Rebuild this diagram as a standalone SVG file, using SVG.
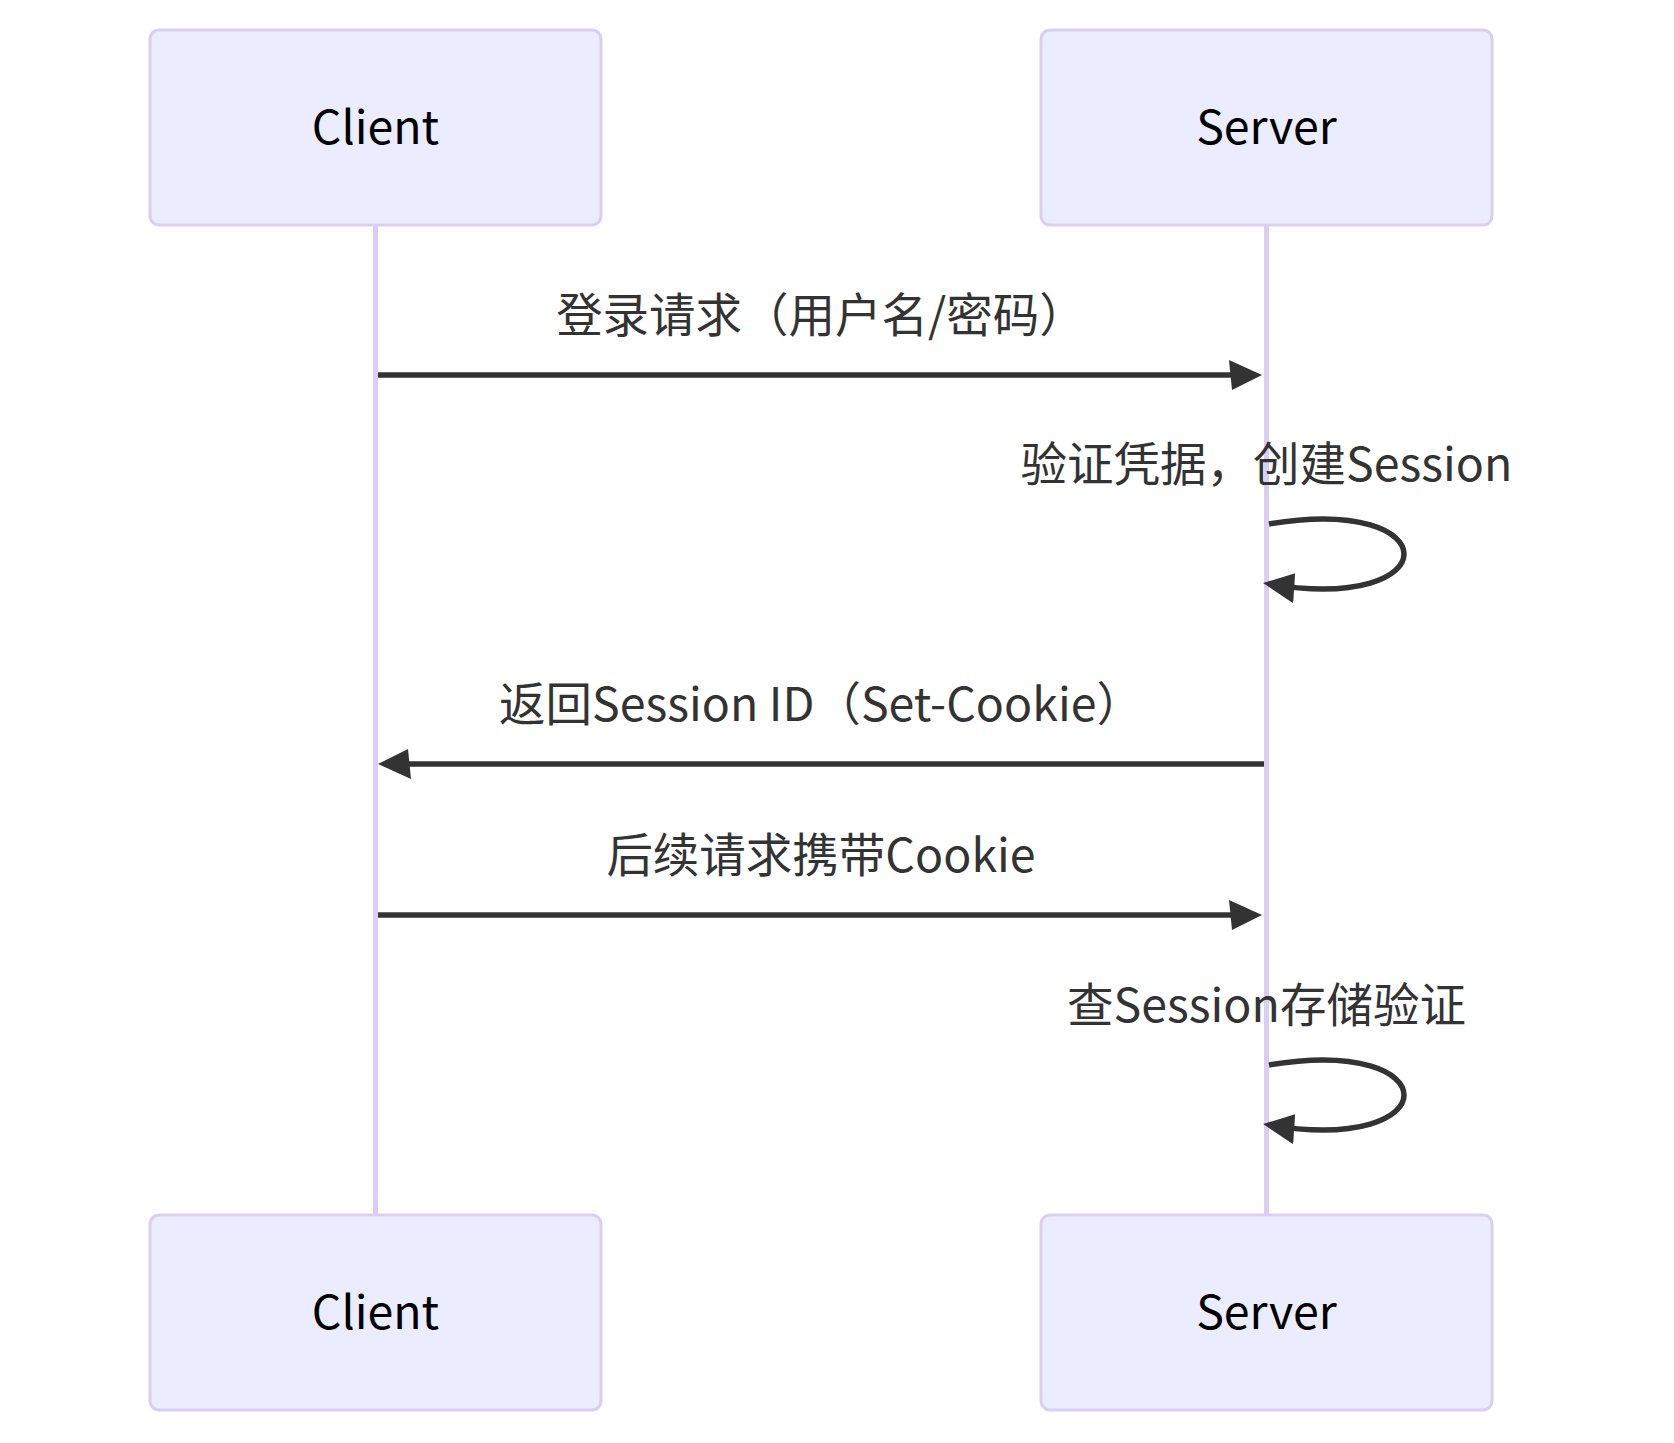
<svg xmlns="http://www.w3.org/2000/svg" width="1674" height="1443" viewBox="0 0 1674 1443">
<style>
.actor{fill:#ECECFF;stroke:#DACEF3;stroke-width:3}
.actor-text{font-family:"Noto Sans CJK SC","Liberation Sans",sans-serif;font-size:46.5px;fill:#000;text-anchor:middle}
.lifeline{stroke:#DACEF3;stroke-width:5;fill:none}
.msg{stroke:#333;stroke-width:5.5;fill:none}
.msg-text{font-family:"Noto Sans CJK SC","Liberation Sans",sans-serif;font-size:46.5px;fill:#333;text-anchor:middle}
</style>
<defs>
<marker id="arrowhead" markerUnits="userSpaceOnUse" viewBox="-3 0 33 30" markerWidth="33" markerHeight="30" refX="24" refY="15" orient="auto">
<path d="M -3 0 L 30 15 L 0 30 z" fill="#333"/>
</marker>
</defs>
<rect width="1674" height="1443" fill="#fff"/>
<g id="lifelines">
<line class="lifeline" x1="375.5" y1="224" x2="375.5" y2="1215"/>
<line class="lifeline" x1="1266.5" y1="224" x2="1266.5" y2="1215"/>
</g>
<g id="client-top">
<rect class="actor" x="150" y="30" width="451" height="195" rx="9"/>
<text class="actor-text" x="375.5" y="144">Client</text>
</g>
<g id="server-top">
<rect class="actor" x="1041" y="30" width="451" height="195" rx="9"/>
<text class="actor-text" x="1266.5" y="144">Server</text>
</g>
<g id="client-bottom">
<rect class="actor" x="150" y="1215" width="451" height="195" rx="9"/>
<text class="actor-text" x="375.5" y="1329">Client</text>
</g>
<g id="server-bottom">
<rect class="actor" x="1041" y="1215" width="451" height="195" rx="9"/>
<text class="actor-text" x="1266.5" y="1329">Server</text>
</g>
<g id="connectors">
<line class="msg" x1="378" y1="375" x2="1256" y2="375" marker-end="url(#arrowhead)"/>
<path class="msg" d="M 1269,524 C 1449,494 1449,614 1269,584" marker-end="url(#arrowhead)"/>
<line class="msg" x1="1264" y1="764" x2="384" y2="764" marker-end="url(#arrowhead)"/>
<line class="msg" x1="378" y1="915" x2="1256" y2="915" marker-end="url(#arrowhead)"/>
<path class="msg" d="M 1269,1065 C 1449,1035 1449,1155 1269,1125" marker-end="url(#arrowhead)"/>
</g>
<g id="labels">
<text class="msg-text" x="821" y="332">登录请求（用户名/密码）</text>
<text class="msg-text" x="1266.5" y="481">验证凭据，创建Session</text>
<text class="msg-text" x="821" y="721">返回Session ID（Set-Cookie）</text>
<text class="msg-text" x="821" y="872">后续请求携带Cookie</text>
<text class="msg-text" x="1266.5" y="1022">查Session存储验证</text>
</g>
</svg>
